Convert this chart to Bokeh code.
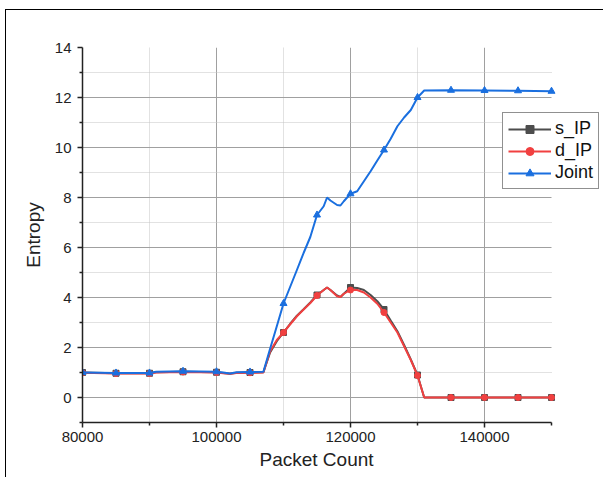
import numpy as np
from bokeh.plotting import figure
from bokeh.models import FixedTicker, NumeralTickFormatter, Legend, LegendItem, Title, LinearAxis
from bokeh.embed import file_html
from bokeh.resources import INLINE

packets = [80000, 85000, 90000, 91000, 95000, 100000, 101000, 102000, 103000, 105000,
           107000, 108000, 109000, 110000, 111000, 112000, 113000, 114000, 115000, 116000,
           116500, 117000, 118000, 118500, 119000, 120000, 121000, 122000, 123000, 124000,
           125000, 126000, 127000, 128000, 129000, 130000, 131000, 135000, 140000, 145000, 150000]

s_ip = [1.00, 0.97, 0.97, 1.01, 1.03, 1.01, 0.98, 0.95, 0.99, 1.00,
        1.01, 1.80, 2.25, 2.60, 2.95, 3.27, 3.53, 3.80, 4.10, 4.30,
        4.40, 4.30, 4.08, 4.02, 4.15, 4.40, 4.38, 4.30, 4.10, 3.85,
        3.52, 3.08, 2.65, 2.10, 1.52, 0.90, 0.00, 0.00, 0.00, 0.00, 0.00]

d_ip = [0.99, 0.96, 0.96, 1.00, 1.02, 1.00, 0.97, 0.95, 0.98, 0.99,
        1.00, 1.85, 2.30, 2.60, 2.93, 3.25, 3.52, 3.78, 4.08, 4.30,
        4.40, 4.30, 4.05, 4.02, 4.15, 4.30, 4.30, 4.20, 4.00, 3.75,
        3.40, 3.00, 2.60, 2.05, 1.50, 0.88, 0.00, 0.00, 0.00, 0.00, 0.00]

joint = [1.00, 0.98, 0.98, 1.03, 1.05, 1.03, 1.00, 0.96, 1.01, 1.02,
         1.03, 1.95, 2.85, 3.76, 4.43, 5.10, 5.78, 6.42, 7.30, 7.65,
         8.00, 7.88, 7.70, 7.68, 7.85, 8.15, 8.25, 8.65, 9.05, 9.48,
         9.90, 10.35, 10.85, 11.20, 11.50, 12.00, 12.28, 12.29, 12.28, 12.27, 12.25]

series_names = ["s_IP", "d_IP", "Joint"]
series_colors = ["#4d4d4d", "#f14040", "#1a6fdf"]
series_markers = ["square", "circle", "triangle"]
marker_sizes = [6, 6, 7]

x_ticks = [80000, 100000, 120000, 140000]
x_minor = [90000, 110000, 130000, 150000]
y_ticks = [0, 2, 4, 6, 8, 10, 12, 14]
y_minor = [-1, 1, 3, 5, 7, 9, 11, 13]

FONT = "Liberation Sans"

# the frame is widened past 150000 so the legend (which sticks out of the axes) is not clipped
x_start, x_end = 80000, 150000
frame_px = 469.0
wide_end = x_start + (602 - 82) / frame_px * (x_end - x_start)

p = figure(width=598, height=468, x_range=(x_start, wide_end), y_range=(-1, 14),
           output_backend="svg", toolbar_location=None,
           min_border_left=76, min_border_right=2, min_border_top=37, min_border_bottom=56)
p.styles = {"margin-left": "5px", "margin-top": "9px",
            "border-left": "1px solid black", "border-top": "1px solid black"}
p.outline_line_color = None
p.background_fill_color = "white"
p.border_fill_color = "white"

# axes
p.xaxis.ticker = FixedTicker(ticks=x_ticks, minor_ticks=x_minor)
p.yaxis.ticker = FixedTicker(ticks=y_ticks, minor_ticks=y_minor)
p.xaxis.bounds = (x_start, x_end)
p.xaxis.formatter = NumeralTickFormatter(format="0")
for ax in (p.xaxis, p.yaxis):
    ax.axis_line_color = "#222222"
    ax.axis_line_width = 1.5
    ax.major_tick_line_color = "#222222"
    ax.minor_tick_line_color = "#222222"
    ax.major_tick_line_width = 1.5
    ax.minor_tick_line_width = 1.5
    ax.major_tick_in = 0
    ax.major_tick_out = 5
    ax.minor_tick_in = 0
    ax.minor_tick_out = 3
    ax.major_label_text_font = FONT
    ax.major_label_text_font_size = "15px"
    ax.major_label_text_color = "#222222"
    ax.axis_label_text_font = FONT
    ax.axis_label_text_font_size = "19px"
    ax.axis_label_text_font_style = "normal"
    ax.axis_label_text_color = "#222222"
p.yaxis.axis_label = "Entropy"
p.xaxis.major_label_standoff = 4
p.yaxis.major_label_standoff = 6
p.yaxis.axis_label_standoff = 8

# invisible spacer axis (no ticks, no line) to push the x label down a few pixels
spacer = LinearAxis(ticker=FixedTicker(ticks=[], minor_ticks=[]), axis_line_color=None,
                    major_tick_line_color=None, minor_tick_line_color=None,
                    major_tick_out=7, major_tick_in=0, minor_tick_out=0, minor_tick_in=0,
                    major_label_text_font_size="1px", major_label_standoff=0)
p.add_layout(spacer, "below")

# x axis label, centred under the 80000..150000 part of the frame
xlabel = Title(text="Packet Count", align="left", offset=177, standoff=4,
               text_font=FONT, text_font_size="19px", text_font_style="normal",
               text_color="#222222")
p.add_layout(xlabel, "below")

# grids
p.xgrid.ticker = FixedTicker(ticks=x_ticks[1:], minor_ticks=x_minor[:-1])
p.ygrid.ticker = FixedTicker(ticks=y_ticks[:-1], minor_ticks=y_minor[1:])
p.ygrid.cross_bounds = (x_start, x_end)
for g in (p.xgrid, p.ygrid):
    g.grid_line_color = "#a0a0a0"
    g.grid_line_width = 1
    g.minor_grid_line_color = "#c4c4c4"
    g.minor_grid_line_dash = "1 1"
    g.minor_grid_line_width = 1

x_arr = np.array(packets)
mask = (x_arr % 5000) == 0
items = []
for name, vals, col, mk, ms in zip(series_names, [s_ip, d_ip, joint], series_colors, series_markers, marker_sizes):
    v = np.array(vals)
    lr = p.line(x_arr, v, line_color=col, line_width=2)
    sr = p.scatter(x_arr[mask], v[mask], marker=mk, size=ms, fill_color=col, line_color=col)
    items.append(LegendItem(label=name, renderers=[lr, sr]))

legend = Legend(items=items, location=(420, 233))
legend.label_text_font = FONT
legend.label_text_font_size = "18px"
legend.label_text_color = "#111111"
legend.border_line_color = "#222222"
legend.border_line_width = 1
legend.background_fill_color = "white"
legend.background_fill_alpha = 1
legend.glyph_width = 43
legend.glyph_height = 20
legend.label_height = 20
legend.label_standoff = 4
legend.spacing = 1
legend.padding = 5
legend.margin = 0
p.add_layout(legend, "center")

open("out.html", "w").write(file_html(p, INLINE))
